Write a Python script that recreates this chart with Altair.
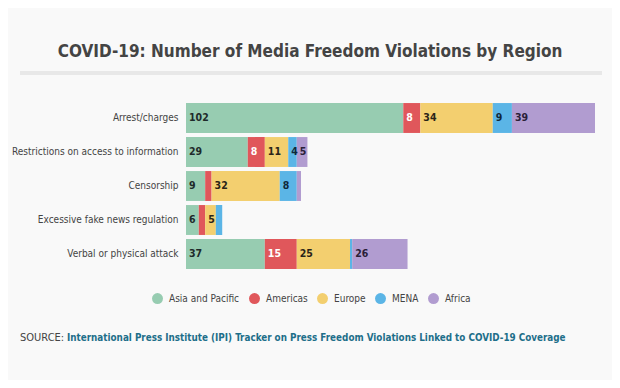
import altair as alt
import pandas as pd

categories = ["Arrest/charges", "Restrictions on access to information", "Censorship",
              "Excessive fake news regulation", "Verbal or physical attack"]
regions = ["Asia and Pacific", "Americas", "Europe", "MENA", "Africa"]
asia = [102, 29, 9, 6, 37]
americas = [8, 8, 3, 3, 15]
europe = [34, 11, 32, 5, 25]
mena = [9, 4, 8, 3, 1]
africa = [39, 5, 2, 0, 26]
colors = ["#97ccb1", "#e0575b", "#f3cf6f", "#5bb5e6", "#b19cd0"]
label_colors = ["#1e2a2a", "#ffffff", "#2a2418", "#10283a", "#2a2038"]

title_text = "COVID-19: Number of Media Freedom Violations by Region"
source_prefix = "SOURCE:"
source_text = "International Press Institute (IPI) Tracker on Press Freedom Violations Linked to COVID-19 Coverage"

FONT = "DejaVu Sans Condensed"

rows = []
for ci, cat in enumerate(categories):
    for ri, (reg, series) in enumerate(zip(regions, [asia, americas, europe, mena, africa])):
        rows.append({"category": cat, "region": reg, "ridx": ri, "value": series[ci],
                     "lcolor": label_colors[ri]})
df = pd.DataFrame(rows)

y_enc = alt.Y("category:N", sort=categories,
              scale=alt.Scale(paddingInner=0.12, paddingOuter=0.06),
              axis=alt.Axis(title=None, domain=False, ticks=False, labelFontSize=10,
                            labelFont=FONT, labelColor="#444444", labelPadding=8,
                            labelLimit=0))

base = alt.Chart(df)

bars = base.mark_bar().encode(
    y=y_enc,
    x=alt.X("value:Q", axis=None, scale=alt.Scale(domain=[0, 192], nice=False)),
    color=alt.Color("region:N", sort=regions,
                    scale=alt.Scale(domain=regions, range=colors),
                    legend=alt.Legend(title=None, orient="none", legendX=-34, legendY=192,
                                      direction="horizontal", symbolType="circle",
                                      symbolSize=120, symbolStrokeWidth=0,
                                      labelFont=FONT, labelFontSize=10, labelColor="#444444",
                                      labelOffset=6, columnPadding=9)),
    order=alt.Order("ridx:Q"),
)

labels = base.transform_stack(
    stack="value", groupby=["category"], as_=["x0", "x1"],
    sort=[alt.SortField("ridx", order="ascending")]
).transform_filter(alt.datum.value >= 4).mark_text(
    align="left", baseline="middle", dx=3, fontWeight="bold", fontSize=10.5, font=FONT
).encode(
    y=y_enc,
    x=alt.X("x0:Q", axis=None, scale=alt.Scale(domain=[0, 192], nice=False)),
    text="value:Q",
    color=alt.Color("lcolor:N", scale=None),
)

title = alt.Chart(pd.DataFrame({"t": [title_text]})).mark_text(
    align="center", baseline="middle", fontSize=17, font=FONT, fontWeight="bold",
    color="#444444"
).encode(text="t:N", x=alt.value(124), y=alt.value(-49))

rule = alt.Chart(pd.DataFrame({"a": [0]})).mark_rule(color="#e8e8e8", strokeWidth=4).encode(
    x=alt.value(-166), x2=alt.value(416), y=alt.value(-28))

src1 = alt.Chart(pd.DataFrame({"t": [source_prefix]})).mark_text(
    align="left", baseline="middle", fontSize=11, font=FONT, color="#444444"
).encode(text="t:N", x=alt.value(-166), y=alt.value(237))

src2 = alt.Chart(pd.DataFrame({"t": [source_text]})).mark_text(
    align="left", baseline="middle", fontSize=9.8, font=FONT, fontWeight="bold", color="#1e6f8a"
).encode(text="t:N", x=alt.value(-119), y=alt.value(237))

chart = alt.layer(bars, labels, title, rule, src1, src2).properties(
    width=409, height=170,
    autosize=alt.AutoSizeParams(type="none"),
    padding={"left": 178, "top": 93, "right": 17, "bottom": 109},
).configure(background="#f9f9f9").configure_view(stroke=None)

chart.save("out.html", embed_options={"renderer": "svg", "actions": False})
